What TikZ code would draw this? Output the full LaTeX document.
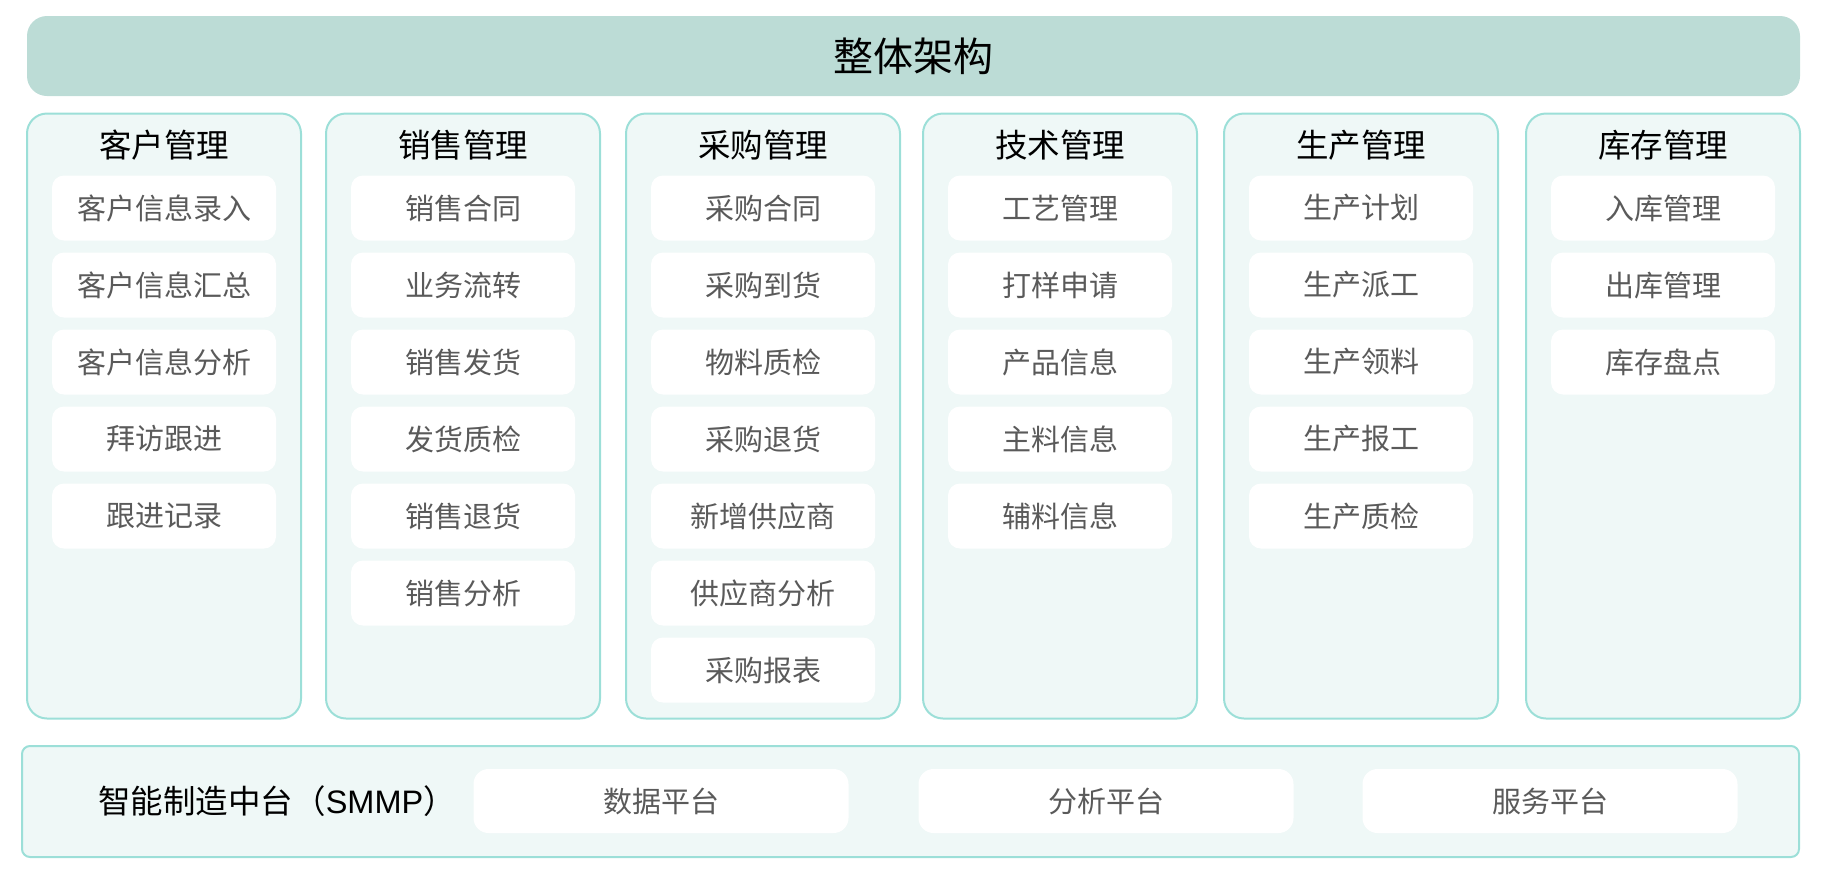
\documentclass[tikz,border=0pt]{standalone}
\usepackage{fontspec}
\setmainfont{Noto Sans CJK SC}
\newfontfamily\latinsans{Liberation Sans}
\definecolor{bannerfill}{HTML}{BCDCD6}
\definecolor{colfill}{HTML}{EFF8F7}
\definecolor{colline}{HTML}{9CDFD8}
\definecolor{itemtext}{HTML}{5A5A5A}
\tikzset{
  banner/.style={fill=bannerfill, draw=none, rounded corners=20pt, minimum width=1773pt, minimum height=80pt, inner sep=0pt,
    font=\fontsize{40}{46}\selectfont, text=black},
  colbox/.style={fill=colfill, draw=colline, line width=2pt, rounded corners=20pt, minimum width=274pt, minimum height=605pt, inner sep=0pt},
  coltitle/.style={font=\fontsize{32.5}{38}\selectfont, text=black, inner sep=0pt},
  itembox/.style={fill=white, draw=none, rounded corners=12pt, minimum width=224pt, minimum height=65pt, inner sep=0pt,
    font=\fontsize{29}{34}\selectfont, text=itemtext},
  panel/.style={fill=colfill, draw=colline, line width=2pt, rounded corners=8pt, minimum width=1777pt, minimum height=111pt, inner sep=0pt},
  panellabel/.style={font=\fontsize{32.5}{38}\selectfont, text=black, inner sep=0pt},
  platbox/.style={fill=white, draw=none, rounded corners=15pt, minimum width=375pt, minimum height=64pt, inner sep=0pt,
    font=\fontsize{29}{34}\selectfont, text=itemtext},
}
\begin{document}
\begin{tikzpicture}[x=1pt,y=-1pt]
\useasboundingbox (0,0) rectangle (1827,884);
\node[banner] (banner) at (913.5,56) {整体架构};
\foreach \i/\cx/\t/\items in {
  0/164/客户管理/{客户信息录入,客户信息汇总,客户信息分析,拜访跟进,跟进记录},
  1/463/销售管理/{销售合同,业务流转,销售发货,发货质检,销售退货,销售分析},
  2/763/采购管理/{采购合同,采购到货,物料质检,采购退货,新增供应商,供应商分析,采购报表},
  3/1060/技术管理/{工艺管理,打样申请,产品信息,主料信息,辅料信息},
  4/1361/生产管理/{生产计划,生产派工,生产领料,生产报工,生产质检},
  5/1663/库存管理/{入库管理,出库管理,库存盘点}}{
  \node[colbox, anchor=north] (col\i) at (\cx,112.5) {};
  \node[coltitle] (title\i) at (\cx,145) {\t};
  \foreach \it [count=\j] in \items {
    \node[itembox] (item\i-\j) at (\cx,{208+77*(\j-1)}) {\it};
  }
}
\node[panel] (panel) at (910.5,801.5) {};
\node[panellabel] (plabel) at (277,801) {智能制造中台（{\latinsans SMMP}）};
\node[platbox] (p1) at (661,801) {数据平台};
\node[platbox] (p2) at (1106,801) {分析平台};
\node[platbox] (p3) at (1550,801) {服务平台};
\end{tikzpicture}
\end{document}
